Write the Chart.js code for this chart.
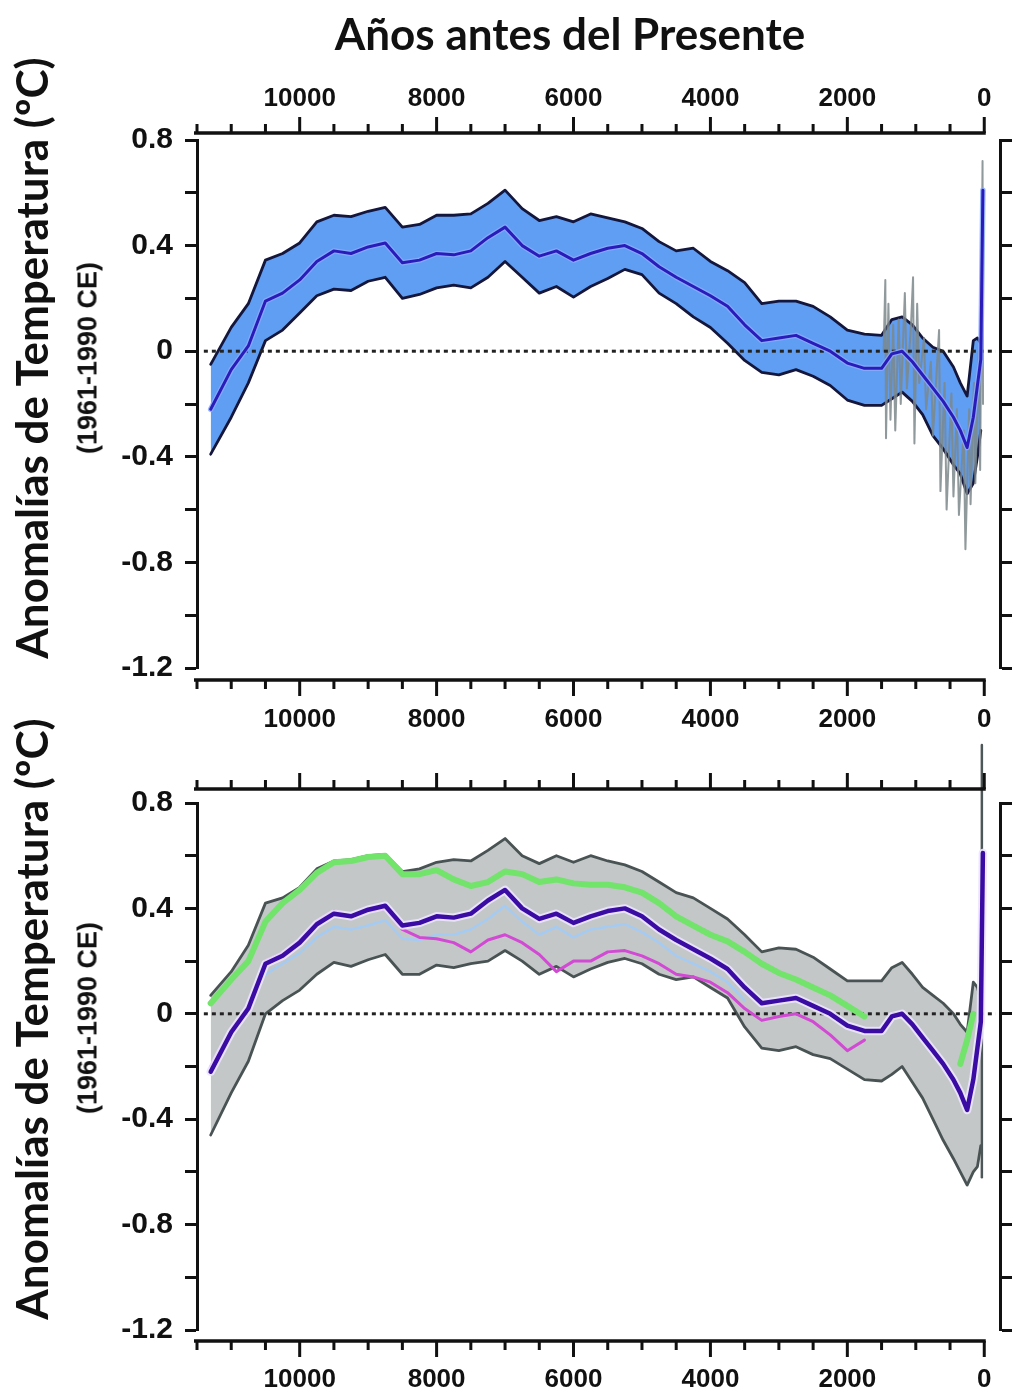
<!DOCTYPE html>
<html lang="es">
<head>
<meta charset="utf-8">
<title>Anomalías de Temperatura del Holoceno</title>
<script src="https://cdn.jsdelivr.net/npm/chart.js@4.4.1/dist/chart.umd.min.js"></script>
<style>
  html, body { margin: 0; padding: 0; background: #ffffff; }
  #page { position: relative; width: 1021px; height: 1393px; overflow: hidden; background: #fff; }
  canvas { position: absolute; left: 0; }
  #c1 { top: 0; }
  #c2 { top: 740px; }
  .txt { position: absolute; white-space: nowrap; color: #111; transform: translate(-50%, -50%); }
  .main-title { font-family: Lato, "Open Sans", sans-serif; font-weight: 700; font-size: 44px; }
  .ytitle { font-family: Lato, "Open Sans", sans-serif; font-weight: 700; font-size: 44px; transform: translate(-50%, -50%) rotate(-90deg); }
  .ysub { font-family: "Liberation Sans", Arial, sans-serif; font-weight: 700; font-size: 27px; transform: translate(-50%, -50%) rotate(-90deg); }
</style>
</head>
<body>
<div id="page">
  <canvas id="c1" width="1021" height="740"></canvas>
  <canvas id="c2" width="1021" height="653"></canvas>
  <div class="txt main-title" style="left:570px; top:33px;">Años antes del Presente</div>
  <div class="txt ytitle" style="left:31px; top:358px;">Anomalías de Temperatura (ºC)</div>
  <div class="txt ysub" style="left:88px; top:358px;">(1961-1990 CE)</div>
  <div class="txt ytitle" style="left:31px; top:1019px;">Anomalías de Temperatura (ºC)</div>
  <div class="txt ysub" style="left:88px; top:1018px;">(1961-1990 CE)</div>
</div>
<script>
// Years before present shared by every smoothed series
const years = [
  11300, 11000, 10750, 10500, 10250, 10000, 9750, 9500, 9250, 9000,
  8750, 8500, 8250, 8000, 7750, 7500, 7250, 7000, 6750, 6500,
  6250, 6000, 5750, 5500, 5250, 5000, 4750, 4500, 4250, 4000,
  3750, 3500, 3250, 3000, 2750, 2500, 2250, 2000, 1750, 1500,
  1350, 1200, 1050, 900, 750, 600, 450, 350, 250, 160, 100, 50, 20
];

// Global mean temperature anomaly (ºC, relative to 1961-1990)
const meanAnomaly = [
  -0.22, -0.07, 0.02, 0.19, 0.22, 0.27, 0.34, 0.38, 0.37, 0.395,
  0.41, 0.335, 0.345, 0.37, 0.365, 0.38, 0.43, 0.47, 0.40, 0.36,
  0.38, 0.345, 0.37, 0.39, 0.40, 0.37, 0.32, 0.28, 0.245, 0.21,
  0.17, 0.10, 0.04, 0.05, 0.06, 0.03, 0.0, -0.045, -0.065, -0.065,
  -0.01, 0.0, -0.04, -0.09, -0.14, -0.19, -0.25, -0.30, -0.365, -0.25, -0.13, -0.03, 0.61
];

// 1-sigma uncertainty envelope of the mean (upper panel)
const upperBound = [
  -0.05, 0.09, 0.18, 0.345, 0.37, 0.41, 0.49, 0.515, 0.51, 0.53,
  0.545, 0.47, 0.48, 0.515, 0.515, 0.52, 0.56, 0.61, 0.54, 0.495,
  0.51, 0.49, 0.52, 0.505, 0.49, 0.465, 0.415, 0.38, 0.39, 0.34,
  0.305, 0.26, 0.18, 0.19, 0.19, 0.17, 0.13, 0.08, 0.065, 0.06,
  0.12, 0.13, 0.10, 0.05, 0.015, 0.0, -0.06, -0.12, -0.17, 0.04, 0.05, 0.03, null
];
const lowerBound = [
  -0.39, -0.25, -0.12, 0.04, 0.08, 0.145, 0.21, 0.235, 0.23, 0.265,
  0.28, 0.20, 0.215, 0.24, 0.25, 0.24, 0.28, 0.34, 0.28, 0.22,
  0.245, 0.205, 0.245, 0.275, 0.31, 0.29, 0.22, 0.18, 0.13, 0.09,
  0.03, -0.035, -0.08, -0.09, -0.07, -0.095, -0.13, -0.185, -0.205, -0.205,
  -0.18, -0.155, -0.19, -0.24, -0.32, -0.37, -0.43, -0.465, -0.54, -0.50, -0.40, -0.30, null
];

// High-resolution reconstruction of the last 1500 years (upper panel)
const recentYears = [
  1470, 1445, 1435, 1400, 1370, 1330, 1300, 1250, 1220, 1160,
  1130, 1070, 1040, 1020, 980, 950, 880, 850, 780, 750,
  660, 640, 580, 550, 480, 450, 400, 370, 300, 275,
  220, 200, 150, 130, 80, 60, 25, 18
];
const recentValues = [
  0.0, 0.27, -0.33, 0.18, -0.26, 0.1, -0.3, 0.12, -0.2, 0.22,
  -0.14, 0.1, 0.28, -0.35, 0.18, -0.12, 0.05, -0.22, -0.04, -0.32,
  0.08, -0.53, -0.12, -0.6, -0.16, -0.55, -0.22, -0.62, -0.3, -0.75,
  -0.22, -0.58, -0.12, -0.5, 0.0, -0.45, 0.72, -0.2
];

// Spread of all reconstruction methods (lower panel)
const spreadUpper = [
  0.07, 0.16, 0.26, 0.42, 0.44, 0.48, 0.55, 0.58, 0.585, 0.60,
  0.605, 0.54, 0.55, 0.575, 0.585, 0.58, 0.62, 0.665, 0.60, 0.57,
  0.60, 0.575, 0.60, 0.58, 0.565, 0.54, 0.50, 0.46, 0.44, 0.40,
  0.36, 0.30, 0.235, 0.25, 0.245, 0.215, 0.17, 0.125, 0.125, 0.125,
  0.175, 0.195, 0.15, 0.10, 0.07, 0.04, 0.0, -0.04, -0.07, 0.12, 0.10, 0.05, null
];
const spreadLower = [
  -0.46, -0.30, -0.18, 0.0, 0.05, 0.09, 0.15, 0.195, 0.18, 0.205,
  0.225, 0.15, 0.15, 0.185, 0.175, 0.19, 0.20, 0.24, 0.20, 0.15,
  0.18, 0.14, 0.17, 0.195, 0.21, 0.19, 0.15, 0.13, 0.14, 0.10,
  0.06, -0.05, -0.13, -0.14, -0.125, -0.155, -0.17, -0.21, -0.25, -0.255,
  -0.23, -0.20, -0.26, -0.32, -0.40, -0.48, -0.55, -0.60, -0.65, -0.60, -0.58, -0.50, null
];

// Individual method reconstructions (lower panel)
const greenMethod = [
  0.04, 0.13, 0.20, 0.35, 0.42, 0.47, 0.535, 0.575, 0.58, 0.595,
  0.60, 0.53, 0.53, 0.545, 0.51, 0.485, 0.50, 0.54, 0.53, 0.50,
  0.51, 0.495, 0.49, 0.49, 0.48, 0.46, 0.42, 0.37, 0.335, 0.30,
  0.275, 0.235, 0.19, 0.155, 0.13, 0.10, 0.07, 0.03, -0.01, null,
  null, null, null, null, null, null, null, -0.19, -0.10, 0.0, null, null, null
];
const magentaMethod = [
  -0.20, -0.06, 0.03, 0.20, 0.23, 0.28, 0.35, 0.39, 0.37, 0.39,
  0.40, 0.32, 0.29, 0.285, 0.27, 0.235, 0.28, 0.30, 0.27, 0.225,
  0.16, 0.20, 0.20, 0.235, 0.24, 0.22, 0.19, 0.15, 0.14, 0.12,
  0.08, 0.02, -0.025, -0.01, 0.0, -0.03, -0.08, -0.14, -0.10, null,
  null, null, null, null, null, null, null, null, null, null, null, null, null
];
const lightBlueMethod = [
  null, null, null, 0.15, 0.19, 0.23, 0.29, 0.33, 0.32, 0.335,
  0.355, 0.285, 0.28, 0.30, 0.30, 0.32, 0.36, 0.41, 0.35, 0.30,
  0.33, 0.29, 0.32, 0.33, 0.34, 0.31, 0.27, 0.22, 0.19, 0.16,
  0.12, 0.05, null, null, null, null, null, null, null, null,
  null, null, null, null, null, null, null, null, null, null, null, null, null
];

// Instrumental-era range drawn as a vertical stroke (lower panel)
const instrumentalYears = [35, 35];
const instrumentalValues = [-0.62, 1.02];

// Zero reference line
const zeroYears = [11400, -170];
const zeroValues = [0, 0];

// Axis ticks
const xLabelYears = [10000, 8000, 6000, 4000, 2000, 0];
const xTickYears = [];
for (let t = 11500; t >= 0; t -= 500) xTickYears.push(t);
const yLabelValues = [0.8, 0.4, 0, -0.4, -0.8, -1.2];

const X_MIN = -230, X_MAX = 11500, Y_MIN = -1.2, Y_MAX = 0.8;
const INK = '#111111';

// Condensed face for the year labels when it is installed
const narrowAvailable = (() => {
  const c = document.createElement('canvas').getContext('2d');
  c.font = 'bold 30px monospace';
  const a = c.measureText('10000 8000').width;
  c.font = 'bold 30px "Liberation Sans Narrow", monospace';
  const b = c.measureText('10000 8000').width;
  return Math.abs(a - b) > 0.5;
})();
const tickFont = narrowAvailable
  ? { family: '"Liberation Sans Narrow", "Liberation Sans", sans-serif', weight: 'bold', size: 30, lineHeight: 1.2 }
  : { family: '"Liberation Sans", Arial, sans-serif', weight: 'bold', size: 26, lineHeight: 1.2 };
const yFont = { family: '"Liberation Sans", Arial, sans-serif', weight: 'bold', size: 30, lineHeight: 1.2 };

function pts(xs, ys) {
  return xs.map((x, i) => ({ x: x, y: ys[i] }));
}

function yLabel(v) {
  const r = Math.round(v * 10) / 10;
  if (!yLabelValues.some(l => Math.abs(l - r) < 1e-9)) return '';
  return r === 0 ? '0' : String(r);
}

// Frame bars with minor/major ticks placed through the x scale
const axisBars = {
  id: 'axisBars',
  afterDraw(chart, args, opts) {
    const { ctx, chartArea } = chart;
    const sx = chart.scales.xBottom;
    const xa = sx.getPixelForValue(X_MAX);
    const xb = sx.getPixelForValue(0);
    const bars = [
      { y: chartArea.top - opts.topGap, dir: -1 },
      { y: chartArea.bottom + opts.bottomGap, dir: 1 }
    ];
    ctx.save();
    ctx.strokeStyle = INK;
    ctx.lineCap = 'butt';
    for (const b of bars) {
      ctx.lineWidth = 3.5;
      ctx.beginPath();
      ctx.moveTo(xa - 3, b.y);
      ctx.lineTo(xb + 1.5, b.y);
      ctx.stroke();
      ctx.lineWidth = 3;
      for (const t of xTickYears) {
        const px = sx.getPixelForValue(t);
        const len = xLabelYears.includes(t) ? opts.major : opts.minor;
        ctx.beginPath();
        ctx.moveTo(px, b.y);
        ctx.lineTo(px, b.y + b.dir * len);
        ctx.stroke();
      }
    }
    ctx.restore();
  }
};

function buildScales(cfg) {
  const xCommon = {
    type: 'linear', reverse: true, min: X_MIN, max: X_MAX,
    grid: { display: false }, border: { display: false },
    afterBuildTicks: s => { s.ticks = xLabelYears.map(v => ({ value: v })); }
  };
  const yCommon = {
    type: 'linear', min: Y_MIN, max: Y_MAX,
    grid: { drawOnChartArea: false, drawTicks: true, tickLength: 12, tickWidth: 3, tickColor: INK },
    border: { display: true, width: 3, color: INK }
  };
  return {
    xTop: Object.assign({}, xCommon, {
      position: 'top',
      ticks: { display: cfg.topLabels, padding: cfg.topPad, font: tickFont, color: INK, maxRotation: 0, autoSkip: false, callback: v => String(v) },
      afterFit: s => { s.height = cfg.topH; }
    }),
    xBottom: Object.assign({}, xCommon, {
      position: 'bottom',
      ticks: { display: true, padding: cfg.bottomPad, font: tickFont, color: INK, maxRotation: 0, autoSkip: false, callback: v => String(v) },
      afterFit: s => { s.height = cfg.bottomH; }
    }),
    y: Object.assign({}, yCommon, {
      position: 'left',
      ticks: { stepSize: 0.2, padding: 12, font: yFont, color: INK, autoSkip: false, callback: v => yLabel(v) },
      afterFit: s => { s.width = 100; }
    }),
    y2: Object.assign({}, yCommon, {
      position: 'right',
      ticks: { stepSize: 0.2, display: false },
      afterFit: s => { s.width = 21; }
    })
  };
}

function line(data, color, width, order, extra) {
  return Object.assign({
    data: data, borderColor: color, borderWidth: width, order: order,
    xAxisID: 'xBottom', yAxisID: 'y',
    pointRadius: 0, tension: 0, fill: false, spanGaps: false,
    borderJoinStyle: 'round', borderCapStyle: 'round'
  }, extra || {});
}

function baseOptions(cfg) {
  return {
    responsive: false, animation: false, events: [],
    layout: { padding: { left: 97, right: 0, top: cfg.padTop, bottom: cfg.padBottom } },
    scales: buildScales(cfg),
    plugins: {
      legend: { display: false }, tooltip: { enabled: false },
      axisBars: { topGap: cfg.topGap, bottomGap: cfg.bottomGap, major: 16, minor: 9 }
    }
  };
}

// Upper panel: mean with uncertainty band
new Chart(document.getElementById('c1'), {
  type: 'line',
  data: {
    datasets: [
      line(pts(years, lowerBound), '#14163c', 2.8, 5),
      line(pts(years, upperBound), '#14163c', 2.8, 5, { fill: '-1', backgroundColor: '#5f9ef2' }),
      line(pts(recentYears, recentValues), 'rgba(125,135,138,0.85)', 2, 3),
      line(pts(zeroYears, zeroValues), '#222', 3, 2, { borderDash: [4, 4], borderCapStyle: 'butt' }),
      line(pts(years, meanAnomaly), 'rgba(140,170,255,0.85)', 5.5, 1),
      line(pts(years, meanAnomaly), '#2a1cb8', 3, 0)
    ]
  },
  options: baseOptions({ topLabels: true, topH: 80, topPad: 18, bottomH: 70, bottomPad: 28, padTop: 60, padBottom: 2, topGap: 7, bottomGap: 12 }),
  plugins: [axisBars]
});

// Lower panel: individual methods within the spread of reconstructions
new Chart(document.getElementById('c2'), {
  type: 'line',
  data: {
    datasets: [
      line(pts(years, spreadLower), '#4a5353', 2.8, 7),
      line(pts(years, spreadUpper), '#4a5353', 2.8, 7, { fill: '-1', backgroundColor: '#c3c7c8' }),
      line(pts(years, lightBlueMethod), '#a6cbf2', 2.5, 6),
      line(pts(zeroYears, zeroValues), '#222', 3, 5.5, { borderDash: [4, 4], borderCapStyle: 'butt' }),
      line(pts(years, magentaMethod), '#d24ad4', 3, 5),
      line(pts(years, greenMethod), '#72e36b', 6, 4),
      line(pts(instrumentalYears, instrumentalValues), '#4e5757', 2.5, 3, { clip: false }),
      line(pts(years, meanAnomaly), 'rgba(236,228,255,0.9)', 8.5, 2),
      line(pts(years, meanAnomaly), '#3a0ca3', 4.5, 1)
    ]
  },
  options: baseOptions({ topLabels: false, topH: 30, topPad: 10, bottomH: 60, bottomPad: 26, padTop: 33, padBottom: 3, topGap: 14, bottomGap: 11 }),
  plugins: [axisBars]
});
</script>
</body>
</html>
